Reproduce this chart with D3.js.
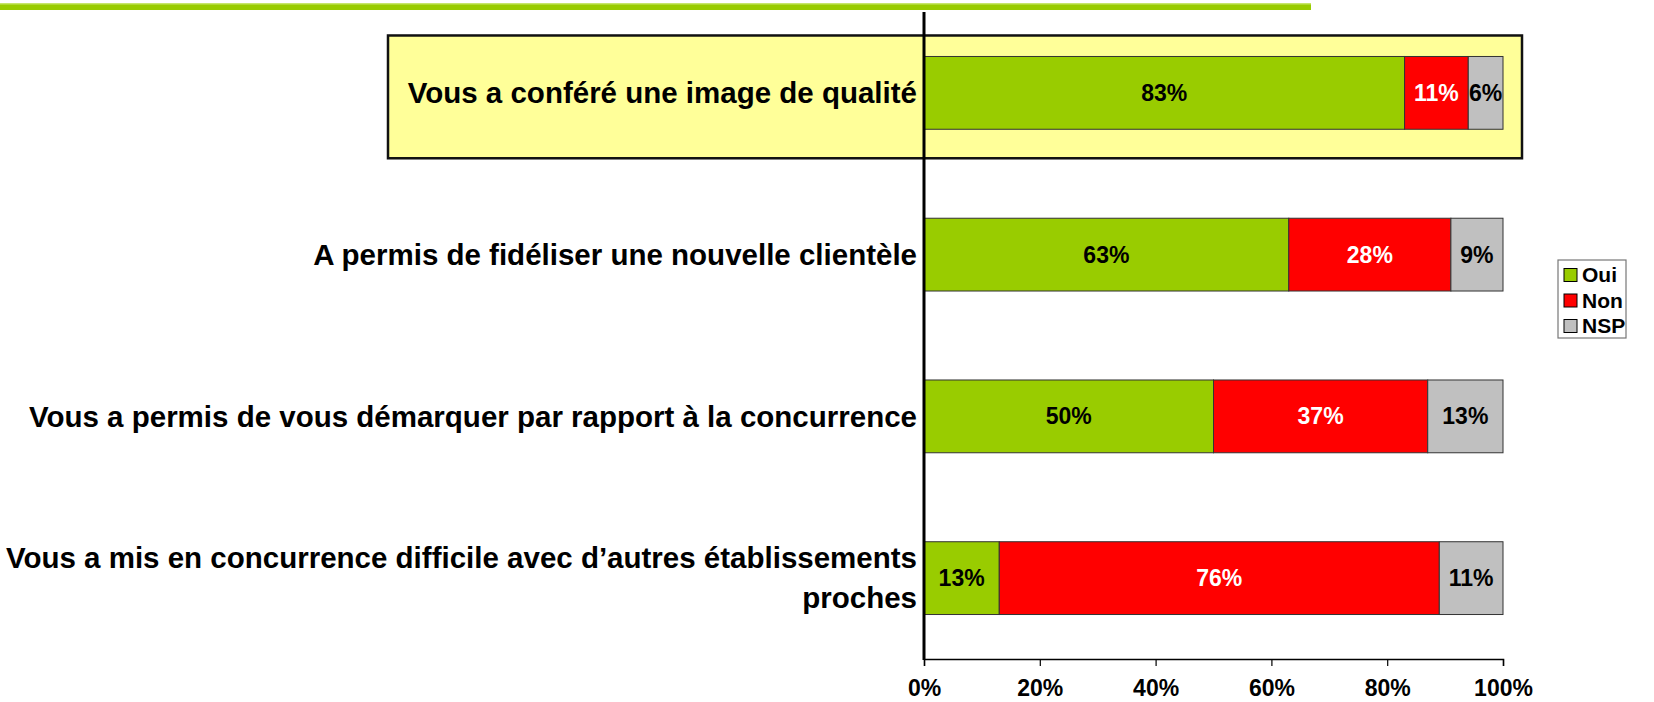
<!DOCTYPE html>
<html>
<head>
<meta charset="utf-8">
<script src="https://cdn.jsdelivr.net/npm/d3@7"></script>
<style>
  body { margin: 0; background: #fff; }
  svg { display: block; font-family: "Liberation Sans", Arial, sans-serif; font-weight: bold; }
</style>
</head>
<body>
<svg id="chart" width="1654" height="702"></svg>
<script>
// data
const categories = [
  ["Vous a conféré une image de qualité"],
  ["A permis de fidéliser une nouvelle clientèle"],
  ["Vous a permis de vous démarquer par rapport à la concurrence"],
  ["Vous a mis en concurrence difficile avec d\u2019autres établissements", "proches"]
];
const oui = [83, 63, 50, 13];
const non = [11, 28, 37, 76];
const nsp = [6, 9, 13, 11];
const seriesNames = ["Oui", "Non", "NSP"];
const seriesColors = ["#99CC00", "#FF0000", "#C0C0C0"];
const labelColors = ["#000", "#fff", "#000"];
const xTicks = [0, 20, 40, 60, 80, 100];

const svg = d3.select("#chart");

// top accent line
svg.append("rect").attr("x", 0).attr("y", 3).attr("width", 1311).attr("height", 7).attr("fill", "#99CC00");
svg.append("rect").attr("x", 0).attr("y", 3).attr("width", 1311).attr("height", 1.5).attr("fill", "#C8E66A");

const plotLeft = 924, plotRight = 1503, plotTop = 12, plotBottom = 659;

const x = d3.scaleLinear().domain([0, 100]).range([plotLeft, plotRight]);
const y = d3.scaleBand().domain(d3.range(categories.length)).range([plotTop, plotBottom]).paddingInner(0.55).paddingOuter(0.275);

// highlight box around the first row
const b0 = y(0);
svg.append("rect")
  .attr("x", 388).attr("y", b0 - 21)
  .attr("width", 1522 - 388).attr("height", y.bandwidth() + 21 + 29)
  .attr("fill", "#FFFF99").attr("stroke", "#111").attr("stroke-width", 2.5);

const rows = categories.map((c, i) => ({ i, vals: [oui[i], non[i], nsp[i]] }));

const stacked = [];
rows.forEach(r => {
  let acc = 0;
  r.vals.forEach((v, k) => {
    stacked.push({ row: r.i, k, x0: acc, x1: acc + v, v });
    acc += v;
  });
});

svg.append("g").selectAll("rect")
  .data(stacked).enter().append("rect")
  .attr("x", d => x(d.x0))
  .attr("y", d => y(d.row))
  .attr("width", d => x(d.x1) - x(d.x0))
  .attr("height", y.bandwidth())
  .attr("fill", d => seriesColors[d.k])
  .attr("stroke", "#333").attr("stroke-width", 1);

svg.append("g").selectAll("text")
  .data(stacked).enter().append("text")
  .attr("x", d => (x(d.x0) + x(d.x1)) / 2)
  .attr("y", d => y(d.row) + y.bandwidth() / 2)
  .attr("dy", "0.35em")
  .attr("text-anchor", "middle")
  .attr("font-size", 23)
  .attr("fill", d => labelColors[d.k])
  .text(d => d.v + "%");

// category labels
const catG = svg.append("g");
categories.forEach((lines, i) => {
  const cy = y(i) + y.bandwidth() / 2;
  const lh = 40;
  const t = catG.append("text")
    .attr("text-anchor", "end")
    .attr("font-size", 29.5)
    .attr("fill", "#000");
  lines.forEach((ln, j) => {
    t.append("tspan")
      .attr("x", 917)
      .attr("y", cy + (j - (lines.length - 1) / 2) * lh)
      .attr("dy", "0.35em")
      .text(ln);
  });
});

// x axis
const xAxis = d3.axisBottom(x).tickValues(xTicks).tickFormat(d => d + "%").tickSize(7).tickPadding(14);
const gx = svg.append("g").attr("transform", `translate(0,${plotBottom})`).call(xAxis);
gx.select(".domain").attr("stroke", "#000").attr("stroke-width", 1.5);
gx.selectAll(".tick line").attr("stroke", "#000").attr("stroke-width", 1.2);
gx.selectAll(".tick text").attr("font-size", 23).attr("font-weight", "bold").attr("font-family", "Liberation Sans, Arial, sans-serif").attr("fill", "#000");

// y axis (vertical line)
svg.append("line").attr("x1", plotLeft).attr("x2", plotLeft).attr("y1", plotTop).attr("y2", plotBottom + 1)
  .attr("stroke", "#000").attr("stroke-width", 3);

// legend
const lg = svg.append("g").attr("transform", "translate(1558,260)");
lg.append("rect").attr("width", 68).attr("height", 78).attr("fill", "#fff").attr("stroke", "#777").attr("stroke-width", 1.2);
seriesNames.forEach((n, k) => {
  const yy = 15 + k * 25.5;
  lg.append("rect").attr("x", 6).attr("y", yy - 6.5).attr("width", 13).attr("height", 13)
    .attr("fill", seriesColors[k]).attr("stroke", "#000").attr("stroke-width", 1);
  lg.append("text").attr("x", 24).attr("y", yy).attr("dy", "0.35em").attr("font-size", 21).text(n);
});
</script>
</body>
</html>
